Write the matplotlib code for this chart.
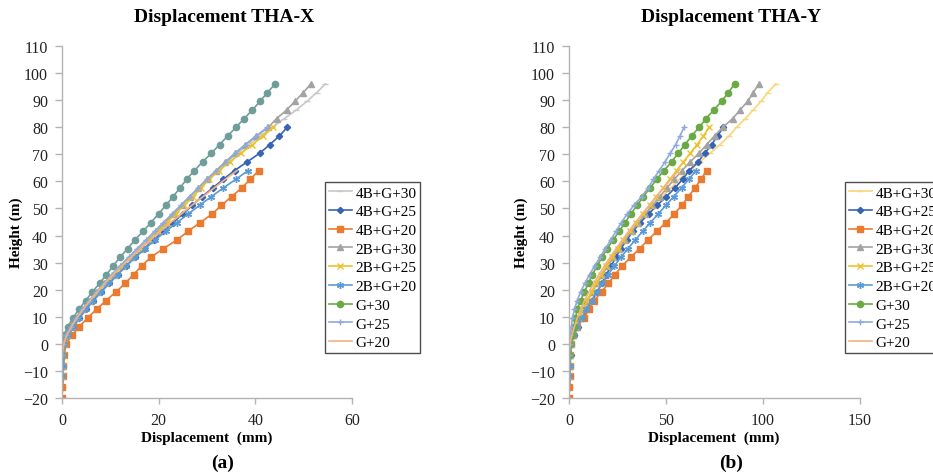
import matplotlib.pyplot as plt
from matplotlib.lines import Line2D

plt.rcParams['font.family'] = ['Liberation Serif', 'DejaVu Serif']

# floor levels above ground (m), 3.2 m storeys
floors = [0, 3.2, 6.4, 9.6, 12.8, 16, 19.2, 22.4, 25.6, 28.8, 32, 35.2, 38.4, 41.6,
          44.8, 48, 51.2, 54.4, 57.6, 60.8, 64, 67.2, 70.4, 73.6, 76.8, 80, 83.2,
          86.4, 89.6, 92.8, 96]
base_4b = [-20, -16, -12, -8, -4]
base_2b = [-12, -8, -4]
base_g = [-4]

labels = ['4B+G+30', '4B+G+25', '4B+G+20', '2B+G+30', '2B+G+25', '2B+G+20',
          'G+30', 'G+25', 'G+20']
heights = [base_4b + floors, base_4b + floors[:26], base_4b + floors[:21],
           base_2b + floors, base_2b + floors[:26], base_2b + floors[:21],
           base_g + floors, base_g + floors[:26], base_g + floors[:21]]

# THA-X displacement (mm)
thax_4b30 = [0.0, 0.05, 0.1, 0.2, 0.3, 0.5, 1.2, 2.2, 3.3, 4.6, 6.0, 7.5, 9.0, 10.6, 12.2,
             13.9, 15.6, 17.4, 19.2, 21.0, 22.8, 24.6, 26.5, 28.4, 30.3, 32.2, 34.2, 36.3,
             38.6, 41.0, 43.5, 46.0, 48.5, 50.7, 52.7, 54.5]
thax_4b25 = [0.0, 0.1, 0.2, 0.3, 0.4, 0.6, 1.3, 2.4, 3.6, 5.0, 6.5, 8.1, 9.8, 11.5, 13.3,
             15.1, 17.0, 19.0, 21.0, 23.0, 25.0, 27.0, 29.0, 31.2, 33.4, 35.7, 38.3, 40.9,
             43.0, 45.0, 46.6]
thax_4b20 = [0.0, 0.1, 0.2, 0.3, 0.5, 0.8, 2.1, 3.6, 5.3, 7.2, 9.1, 11.2, 13.1, 14.8, 16.5,
             18.4, 21.0, 23.8, 26.1, 28.6, 31.1, 33.0, 35.1, 37.2, 39.0, 40.7]
thax_2b30 = [0.1, 0.2, 0.3, 0.4, 0.6, 1.5, 2.8, 4.2, 5.7, 7.3, 9.0, 10.7, 12.5, 14.3, 16.2,
             18.0, 19.7, 21.4, 23.1, 24.8, 26.5, 28.2, 30.0, 31.9, 33.8, 35.8, 37.9, 40.2,
             42.7, 44.4, 46.5, 48.2, 49.9, 51.5]
thax_2b25 = [0.1, 0.2, 0.3, 0.5, 1.0, 2.0, 3.2, 4.6, 6.0, 7.5, 9.1, 10.8, 12.6, 14.4, 16.3,
             18.1, 19.9, 21.7, 23.5, 25.3, 27.1, 28.8, 30.5, 32.5, 34.7, 37.0, 39.4, 41.6,
             43.7]
thax_2b20 = [0.1, 0.2, 0.3, 0.5, 1.2, 2.3, 3.5, 4.9, 6.4, 8.0, 9.7, 11.5, 13.3, 15.2, 17.2,
             19.3, 21.5, 23.8, 26.1, 28.5, 30.9, 33.4, 36.0, 38.5]
thax_g30 = [0.0, 0.1, 0.4, 1.2, 2.3, 3.5, 4.9, 6.3, 7.8, 9.2, 10.6, 12.0, 13.6, 15.1, 16.8,
            18.4, 20.0, 21.5, 23.0, 24.4, 25.8, 27.4, 29.1, 30.9, 32.6, 34.3, 36.0, 37.7,
            39.4, 41.0, 42.5, 44.1]
thax_g25 = [0.0, 0.3, 0.8, 1.8, 2.9, 4.2, 5.6, 7.1, 8.7, 10.3, 12.0, 13.8, 15.6, 17.4, 19.2,
            21.0, 22.8, 24.6, 26.4, 28.2, 30.0, 31.9, 33.9, 35.9, 38.0, 40.2, 42.5]
thax_g20 = [0.0, 0.4, 1.0, 2.0, 3.1, 4.4, 5.8, 7.3, 8.9, 10.6, 12.4, 14.3, 16.3, 18.3, 20.4,
            22.5, 24.7, 26.9, 29.2, 31.5, 33.8, 36.2]

# THA-Y displacement (mm)
thay_4b30 = [0.0, 0.2, 0.4, 0.6, 0.8, 1.0, 2.0, 3.5, 5.5, 7.7, 10.0, 12.4, 14.9, 17.5, 20.2,
             23.0, 26.0, 29.3, 32.7, 36.3, 40.0, 44.0, 48.0, 52.5, 57.0, 62.5, 67.5, 72.7,
             77.8, 82.6, 86.4, 90.9, 95.0, 99.0, 102.4, 106.7]
thay_4b25 = [0.0, 0.2, 0.4, 0.6, 0.8, 1.2, 2.5, 4.5, 7.0, 9.5, 12.0, 14.5, 17.0, 19.3, 21.7,
             24.2, 26.8, 29.8, 33.0, 36.8, 41.0, 45.5, 50.2, 54.6, 58.6, 62.0, 66.5, 70.0,
             73.5, 76.6, 79.5]
thay_4b20 = [0.0, 0.2, 0.3, 0.5, 0.7, 1.0, 2.3, 4.0, 7.8, 10.2, 13.0, 16.8, 20.3, 23.7, 27.5,
             31.8, 36.4, 40.8, 45.3, 50.0, 54.3, 58.2, 61.5, 65.0, 68.0, 71.0]
thay_2b30 = [0.2, 0.4, 0.6, 1.0, 2.0, 3.3, 5.0, 7.0, 9.3, 11.8, 14.3, 17.0, 19.8, 22.7, 25.7,
             29.0, 32.3, 35.8, 39.3, 43.0, 46.8, 50.5, 54.3, 58.3, 62.5, 67.0, 71.0, 75.0,
             79.3, 84.4, 88.2, 92.1, 95.0, 97.8]
thay_2b25 = [0.2, 0.4, 0.6, 1.0, 2.0, 3.4, 5.0, 7.0, 9.2, 11.6, 14.0, 16.6, 19.3, 22.0, 25.0,
             28.0, 31.2, 34.5, 38.0, 41.5, 45.0, 48.5, 52.0, 55.5, 59.0, 62.5, 66.0, 69.3,
             72.3]
thay_2b20 = [0.2, 0.4, 0.6, 1.0, 2.4, 4.2, 6.5, 9.0, 11.6, 14.3, 17.2, 20.2, 23.4, 26.8, 30.4,
             34.2, 38.0, 42.0, 46.0, 50.0, 54.0, 58.0, 61.8, 65.5]
thay_g30 = [0.0, 0.5, 1.5, 2.5, 3.3, 4.3, 6.0, 7.9, 10.1, 12.0, 14.6, 16.9, 19.7, 22.8, 25.9,
            29.0, 31.8, 35.2, 38.3, 41.8, 45.3, 48.9, 52.9, 56.3, 59.8, 63.2, 67.2, 70.6,
            74.7, 78.7, 82.1, 85.4]
thay_g25 = [0.0, 0.3, 0.7, 1.2, 1.8, 2.8, 4.2, 6.0, 8.2, 10.6, 13.2, 16.0, 18.8, 21.5, 24.3,
            27.0, 30.0, 33.5, 37.5, 40.8, 43.5, 46.5, 49.5, 52.2, 55.0, 57.2, 59.4]
thay_g20 = [0.0, 0.5, 1.5, 2.8, 4.3, 6.0, 8.0, 10.3, 12.8, 15.5, 18.3, 21.2, 24.3, 27.5, 30.8,
            34.2, 37.8, 41.4, 45.0, 48.8, 52.6, 56.5]

thax = [thax_4b30, thax_4b25, thax_4b20, thax_2b30, thax_2b25, thax_2b20,
        thax_g30, thax_g25, thax_g20]
thay = [thay_4b30, thay_4b25, thay_4b20, thay_2b30, thay_2b25, thay_2b20,
        thay_g30, thay_g25, thay_g20]

markers = ['_', 'D', 's', '^', 'x', (6, 2, 0), 'o', '+', None]
msizes = [5, 3.2, 4.8, 4.8, 4, 5, 4.5, 5, 0]
colors_x = ['#c8c8c8', '#3763b4', '#ea7a30', '#a3a3a3', '#edc12a', '#5b9bd5',
            '#6f9e9a', '#8faadc', '#f4b183']
colors_y = ['#f9d67c', '#3763b4', '#ea7a30', '#a3a3a3', '#edc12a', '#5b9bd5',
            '#6aaa45', '#8faadc', '#f4b183']
colors_leg = ['#c8c8c8', '#3763b4', '#ea7a30', '#a3a3a3', '#edc12a', '#5b9bd5',
              '#6aaa45', '#8faadc', '#f4b183']

fig = plt.figure(figsize=(9.33, 4.77), dpi=100)
ax1 = fig.add_axes([62 / 933, 78 / 477, 290 / 933, 352 / 477])
ax2 = fig.add_axes([569 / 933, 78 / 477, 291 / 933, 352 / 477])


def draw(ax, data, colors, xmax, xticks):
    for i in range(len(labels)):
        ax.plot(data[i], heights[i], color=colors[i], marker=markers[i],
                markersize=msizes[i], linewidth=1.2, markeredgewidth=1.0)
    ax.set_xlim(0, xmax)
    ax.set_ylim(-20, 110)
    ax.set_xticks(xticks)
    ax.set_yticks(range(-20, 111, 10))
    for s in ['top', 'right']:
        ax.spines[s].set_visible(False)
    for s in ['left', 'bottom']:
        ax.spines[s].set_color('#b3b3b3')
        ax.spines[s].set_linewidth(1.0)
    ax.tick_params(axis='y', direction='out', length=5, width=1, color='#b3b3b3',
                   labelsize=11.5, pad=5, labelcolor='#222222')
    ax.tick_params(axis='x', direction='out', length=4, width=1, color='#b3b3b3',
                   labelsize=11.5, pad=6, labelcolor='#222222')


draw(ax1, thax, colors_x, 60, [0, 20, 40, 60])
draw(ax2, thay, colors_y, 150, [0, 50, 100, 150])

handles_x = [Line2D([], [], color=colors_leg[i], marker=markers[i], markersize=msizes[i],
                    linewidth=1.2) for i in range(len(labels))]
handles_y = [Line2D([], [], color=colors_y[i], marker=markers[i], markersize=msizes[i],
                    linewidth=1.2) for i in range(len(labels))]

for handles, x0 in [(handles_x, 325), (handles_y, 845)]:
    leg = fig.legend(handles, labels, loc='upper left',
                     bbox_to_anchor=(x0 / 933, 1 - 183 / 477), fontsize=11,
                     frameon=True, fancybox=False, edgecolor='#222222',
                     handlelength=1.5, handletextpad=0.25, labelspacing=0.33,
                     borderpad=0.25, borderaxespad=0)
    leg.get_frame().set_linewidth(1.0)

fig.text(224 / 933, 1 - 17 / 477, 'Displacement THA-X', ha='center', va='center',
         fontsize=14, fontweight='bold')
fig.text(731 / 933, 1 - 17 / 477, 'Displacement THA-Y', ha='center', va='center',
         fontsize=14, fontweight='bold')
fig.text(207 / 933, 1 - 438 / 477, 'Displacement  (mm)', ha='center', va='center',
         fontsize=11, fontweight='bold')
fig.text(714 / 933, 1 - 438 / 477, 'Displacement  (mm)', ha='center', va='center',
         fontsize=11, fontweight='bold')
fig.text(16 / 933, 1 - 233 / 477, 'Height (m)', ha='center', va='center',
         rotation=90, fontsize=11, fontweight='bold')
fig.text(521 / 933, 1 - 233 / 477, 'Height (m)', ha='center', va='center',
         rotation=90, fontsize=11, fontweight='bold')
fig.text(223 / 933, 1 - 463 / 477, '(a)', ha='center', va='center',
         fontsize=14, fontweight='bold')
fig.text(731 / 933, 1 - 463 / 477, '(b)', ha='center', va='center',
         fontsize=14, fontweight='bold')

fig.savefig('out.png', dpi=100)
